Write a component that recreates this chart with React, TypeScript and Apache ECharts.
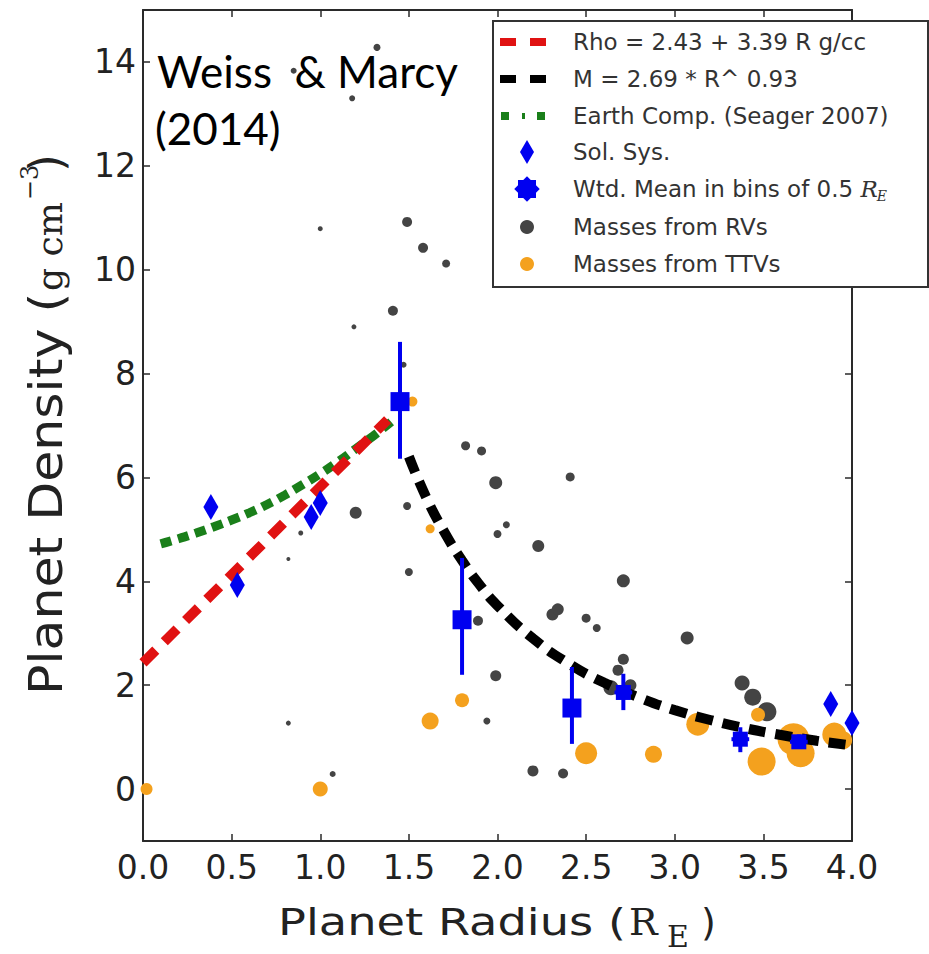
import React, { useEffect, useRef } from "react";
import * as echarts from "echarts";

// ---- data ----
const rvRadius = [1.32, 0.85, 1.18, 1.0, 1.49, 1.58, 1.71, 1.41, 1.19, 1.47, 1.82, 1.91, 1.99, 1.49, 1.2, 2.0, 0.89, 0.82, 1.5, 2.41, 2.05, 2.23, 2.71, 2.31, 2.34, 2.5, 2.56, 3.07, 2.71, 2.68, 1.99, 2.64, 2.75, 1.94, 2.2, 2.37, 3.38, 3.44, 3.52, 1.89, 0.82, 1.07];
const rvDensity = [14.28, 13.83, 13.3, 10.79, 10.92, 10.42, 10.12, 9.21, 8.9, 8.17, 6.61, 6.51, 5.9, 5.45, 5.32, 4.91, 4.93, 4.43, 4.18, 6.01, 5.09, 4.68, 4.01, 3.36, 3.46, 3.29, 3.1, 2.91, 2.5, 2.29, 2.18, 1.95, 2.0, 1.31, 0.35, 0.3, 2.04, 1.77, 1.49, 3.24, 1.27, 0.29];
const rvWeight = [7, 6, 6, 5, 10, 10, 8, 10, 5, 6, 9, 9, 13, 8, 12, 8, 5, 4, 8, 9, 7, 12, 13, 12, 12, 9, 8, 13, 11, 11, 11, 15, 12, 7, 11, 10, 15, 17, 19, 10, 5, 6];

const ttvRadius = [0.02, 1.0, 1.52, 1.62, 1.62, 1.8, 2.5, 2.88, 3.13, 3.47, 3.49, 3.67, 3.71, 3.9, 3.95];
const ttvDensity = [0.0, 0.0, 7.46, 5.01, 1.31, 1.71, 0.69, 0.67, 1.25, 1.43, 0.53, 0.96, 0.69, 1.05, 0.94];
const ttvWeight = [12, 15, 10, 9, 17, 14, 22, 17, 23, 14, 28, 32, 28, 24, 18];

const solSysRadius = [0.383, 0.532, 0.949, 1.0, 3.88, 4.0];
const solSysDensity = [5.43, 3.93, 5.24, 5.51, 1.64, 1.27];

const binRadius = [1.45, 1.8, 2.42, 2.71, 3.37, 3.7];
const binDensity = [7.46, 3.26, 1.56, 1.86, 0.96, 0.91];
const binLow = [6.36, 2.2, 0.87, 1.52, 0.71, 0.78];
const binHigh = [8.61, 4.45, 2.35, 2.22, 1.19, 1.05];
const binRadiusErr = [0, 0, 0, 0.05, 0.05, 0.05];

const rhoFitRadius = [0, 1.38];
const rhoFitDensity = [2.43, 7.11];

const massFitRadius = [1.5, 1.6, 1.7, 1.8, 1.9, 2.0, 2.2, 2.4, 2.6, 2.8, 3.0, 3.2, 3.4, 3.6, 3.8, 4.0];
const massFitDensity = [6.4, 5.6, 4.95, 4.4, 3.93, 3.53, 2.9, 2.42, 2.05, 1.76, 1.52, 1.33, 1.17, 1.04, 0.93, 0.84];

const earthRadius = [0.1, 0.2, 0.3, 0.4, 0.5, 0.6, 0.7, 0.8, 0.9, 1.0, 1.1, 1.2, 1.3, 1.4];
const earthDensity = [4.72, 4.82, 4.93, 5.05, 5.18, 5.32, 5.48, 5.66, 5.86, 6.07, 6.3, 6.55, 6.8, 7.07];

const yTickValues = [0, 2, 4, 6, 8, 10, 12, 14];

const legendLabels = [
  "Rho = 2.43 + 3.39 R g/cc",
  "M = 2.69 * R^ 0.93",
  "Earth Comp. (Seager 2007)",
  "Sol. Sys.",
  "Wtd. Mean in bins of 0.5 ",
  "Masses from RVs",
  "Masses from TTVs",
];

const RED = "#e01212";
const GREEN = "#1a7f1a";
const BLUE = "#0000f0";
const GRAY = "#444444";
const ORANGE = "#f4a11e";
const AXIS = "#2a2a2a";

export default function App() {
  const ref = useRef<HTMLDivElement>(null);

  useEffect(() => {
    if (!ref.current) return;
    const chart = echarts.init(ref.current, null, { renderer: "svg" });

    const ctx = document.createElement("canvas").getContext("2d")!;
    const mw = (t: string, font: string) => {
      ctx.font = font;
      return ctx.measureText(t).width;
    };
    const sans = (s: number) => `${s}px "DejaVu Sans"`;
    const serif = (s: number) => `${s}px "DejaVu Serif"`;
    const C = 0.346; // central-baseline offset (em)

    const axisCommon = {
      axisLine: { show: true, onZero: false, lineStyle: { color: AXIS, width: 2 } },
      axisTick: { show: true, inside: true, length: 7, lineStyle: { color: AXIS, width: 1.5 } },
      splitLine: { show: false },
    };

    // ---- x title pieces ----
    const XT = 38;
    const xt1 = "Planet Radius (";
    const xs = (626 - 278) / mw(xt1, sans(XT));
    const xBase = 935;
    const xTitle = {
      type: "group",
      z: 100,
      children: [
        { type: "text", x: 278, y: xBase - C * XT, scaleX: xs, style: { text: xt1, font: sans(XT), fill: "#222", align: "left", verticalAlign: "middle", textAlign: "left", textVerticalAlign: "middle" } },
        { type: "text", x: 629, y: xBase - C * XT, style: { text: "R", font: serif(XT), fill: "#222", align: "left", verticalAlign: "middle", textAlign: "left", textVerticalAlign: "middle" } },
        { type: "text", x: 667, y: 947 - C * 30, style: { text: "E", font: serif(30), fill: "#222", align: "left", verticalAlign: "middle", textAlign: "left", textVerticalAlign: "middle" } },
        { type: "text", x: 701, y: xBase - C * XT, style: { text: ")", font: sans(XT), fill: "#222", align: "left", verticalAlign: "middle", textAlign: "left", textVerticalAlign: "middle" } },
      ],
    };

    // ---- y title pieces (rotated) ----
    const YT = 46;
    const yt1 = "Planet Density (";
    const ys = 402 / mw(yt1, sans(YT));
    const gcmW = mw("g cm", serif(36));
    const yTitle = {
      type: "group",
      x: 62,
      y: 695,
      rotation: Math.PI / 2,
      z: 100,
      children: [
        { type: "text", x: 0, y: -C * YT, scaleX: ys, style: { text: yt1, font: sans(YT), fill: "#222", align: "left", verticalAlign: "middle", textAlign: "left", textVerticalAlign: "middle" } },
        { type: "text", x: 404, y: -C * 36, style: { text: "g cm", font: serif(36), fill: "#222", align: "left", verticalAlign: "middle", textAlign: "left", textVerticalAlign: "middle" } },
        { type: "text", x: 404 + gcmW + 2, y: -24 - C * 24, style: { text: "\u22123", font: serif(24), fill: "#222", align: "left", verticalAlign: "middle", textAlign: "left", textVerticalAlign: "middle" } },
        { type: "text", x: 523, y: -C * YT, style: { text: ")", font: sans(YT), fill: "#222", align: "left", verticalAlign: "middle", textAlign: "left", textVerticalAlign: "middle" } },
      ],
    };

    // ---- legend ----
    const rowY = [42, 79, 116, 152, 189, 227, 264];
    const LF = 23;
    const txt = (t: string, x: number, y: number, font: string, fill = "#333") => ({
      type: "text",
      x,
      y,
      z: 102,
      style: { text: t, font, fill, align: "left", verticalAlign: "middle", textAlign: "left", textVerticalAlign: "middle" },
    });
    const legendEls: any[] = [
      { type: "rect", z: 101, shape: { x: 493, y: 21, width: 435, height: 266 }, style: { fill: "#fff", stroke: "#333", lineWidth: 2 } },
      { type: "rect", z: 102, shape: { x: 500, y: rowY[0] - 4, width: 16, height: 8 }, style: { fill: RED } },
      { type: "rect", z: 102, shape: { x: 530, y: rowY[0] - 4, width: 16, height: 8 }, style: { fill: RED } },
      { type: "rect", z: 102, shape: { x: 500, y: rowY[1] - 4, width: 16, height: 8 }, style: { fill: "#000" } },
      { type: "rect", z: 102, shape: { x: 530, y: rowY[1] - 4, width: 16, height: 8 }, style: { fill: "#000" } },
      { type: "rect", z: 102, shape: { x: 501, y: rowY[2] - 4, width: 8, height: 8 }, style: { fill: GREEN } },
      { type: "rect", z: 102, shape: { x: 522, y: rowY[2] - 3, width: 3, height: 6 }, style: { fill: GREEN } },
      { type: "rect", z: 102, shape: { x: 537, y: rowY[2] - 4, width: 8, height: 8 }, style: { fill: GREEN } },
      { type: "polygon", z: 102, shape: { points: [[527, rowY[3] - 12], [534, rowY[3]], [527, rowY[3] + 12], [520, rowY[3]]] }, style: { fill: BLUE } },
      { type: "rect", z: 102, shape: { x: 518, y: rowY[4] - 9, width: 18, height: 18 }, style: { fill: BLUE } },
      { type: "rect", z: 102, x: 527, y: rowY[4], rotation: Math.PI / 4, shape: { x: -9, y: -9, width: 18, height: 18 }, style: { fill: BLUE } },
      { type: "circle", z: 102, shape: { cx: 527, cy: rowY[5], r: 7 }, style: { fill: GRAY } },
      { type: "circle", z: 102, shape: { cx: 527, cy: rowY[6], r: 7 }, style: { fill: ORANGE } },
    ];
    legendLabels.forEach((l, i) => legendEls.push(txt(l, 573, rowY[i], sans(LF))));
    const wtdW = mw(legendLabels[4], sans(LF));
    legendEls.push(txt("R", 573 + wtdW, rowY[4], `italic ${LF}px "DejaVu Serif"`));
    legendEls.push(txt("E", 573 + wtdW + mw("R", `italic ${LF}px "DejaVu Serif"`) - 1, rowY[4] + 7, `italic 14px "DejaVu Serif"`));

    const weiss = [
      { type: "text", x: 157, y: 88 - 0.387 * 44, z: 100, style: { text: "Weiss  & Marcy", font: "44px Lato", fill: "#000", align: "left", verticalAlign: "middle", textAlign: "left", textVerticalAlign: "middle" } },
      { type: "text", x: 155, y: 145 - 0.387 * 44, z: 100, style: { text: "(2014)", font: "44px Lato", fill: "#000", align: "left", verticalAlign: "middle", textAlign: "left", textVerticalAlign: "middle" } },
    ];

    const option: any = {
      animation: false,
      backgroundColor: "#ffffff",
      grid: { left: 143, top: 10, width: 709, height: 831, containLabel: false },
      xAxis: [
        {
          type: "value",
          min: 0,
          max: 4,
          interval: 0.5,
          position: "bottom",
          ...axisCommon,
          axisLabel: { formatter: (v: number) => v.toFixed(1), fontFamily: "DejaVu Sans", fontSize: 33, color: "#222", margin: 10 },
        },
        { type: "value", min: 0, max: 4, interval: 0.5, position: "top", ...axisCommon, axisLabel: { show: false } },
      ],
      yAxis: [
        {
          type: "value",
          min: -1,
          max: 15,
          splitNumber: 8,
          position: "left",
          ...axisCommon,
          axisLabel: {
            formatter: (v: number) => (yTickValues.includes(v) ? String(v) : ""),
            fontFamily: "DejaVu Sans",
            fontSize: 33,
            color: "#222",
            margin: 7,
            showMinLabel: false,
            showMaxLabel: false,
          },
        },
        { type: "value", min: -1, max: 15, splitNumber: 8, position: "right", ...axisCommon, axisLabel: { show: false } },
      ],
      series: [
        {
          name: "Masses from RVs",
          type: "scatter",
          z: 2,
          data: rvRadius.map((x, i) => [x, rvDensity[i]]),
          symbolSize: (_v: any, p: any) => rvWeight[p.dataIndex],
          itemStyle: { color: GRAY, opacity: 1 },
        },
        {
          name: "Masses from TTVs",
          type: "scatter",
          z: 3,
          data: ttvRadius.map((x, i) => [x, ttvDensity[i]]),
          symbolSize: (_v: any, p: any) => ttvWeight[p.dataIndex],
          itemStyle: { color: ORANGE, opacity: 1 },
        },
        {
          name: "Earth Comp. (Seager 2007)",
          type: "line",
          z: 4,
          showSymbol: false,
          smooth: true,
          data: earthRadius.map((x, i) => [x, earthDensity[i]]),
          lineStyle: { color: GREEN, width: 9, type: [11, 7] },
        },
        {
          name: "Rho = 2.43 + 3.39 R g/cc",
          type: "line",
          z: 5,
          showSymbol: false,
          data: rhoFitRadius.map((x, i) => [x, rhoFitDensity[i]]),
          lineStyle: { color: RED, width: 10, type: [18, 12] },
        },
        {
          name: "M = 2.69 * R^ 0.93",
          type: "line",
          z: 6,
          showSymbol: false,
          smooth: true,
          data: massFitRadius.map((x, i) => [x, massFitDensity[i]]),
          lineStyle: { color: "#000", width: 10, type: [17, 10] },
        },
        {
          name: "Sol. Sys.",
          type: "scatter",
          z: 7,
          symbol: "diamond",
          symbolSize: [15, 26],
          data: solSysRadius.map((x, i) => [x, solSysDensity[i]]),
          itemStyle: { color: BLUE, opacity: 1 },
        },
        {
          name: "errorbars",
          type: "custom",
          z: 8,
          data: binRadius.map((x, i) => [x, binDensity[i], binLow[i], binHigh[i], binRadiusErr[i]]),
          encode: { x: 0, y: 1 },
          renderItem: (_p: any, api: any) => {
            const x = api.value(0);
            const y = api.value(1);
            const a = api.coord([x, api.value(2)]);
            const b = api.coord([x, api.value(3)]);
            const xe = api.value(4);
            const children: any[] = [
              { type: "line", shape: { x1: a[0], y1: a[1], x2: b[0], y2: b[1] }, style: { stroke: BLUE, lineWidth: 4 } },
            ];
            if (xe > 0) {
              const l = api.coord([x - xe, y]);
              const r = api.coord([x + xe, y]);
              children.push({ type: "line", shape: { x1: l[0], y1: l[1], x2: r[0], y2: r[1] }, style: { stroke: BLUE, lineWidth: 4 } });
            }
            return { type: "group", children };
          },
        },
        {
          name: "Wtd. Mean in bins of 0.5 RE",
          type: "scatter",
          z: 9,
          symbol: "rect",
          symbolSize: (_v: any, p: any) => (binRadiusErr[p.dataIndex] > 0 ? 15 : 19),
          data: binRadius.map((x, i) => [x, binDensity[i]]),
          itemStyle: { color: BLUE, opacity: 1 },
        },
      ],
      graphic: { elements: [xTitle, yTitle, ...weiss, ...legendEls] },
    };

    chart.setOption(option);
    return () => chart.dispose();
  }, []);

  return (
    <div
      ref={ref}
      style={{ position: "fixed", left: 0, top: 0, width: 929, height: 954, background: "#fff" }}
    />
  );
}
